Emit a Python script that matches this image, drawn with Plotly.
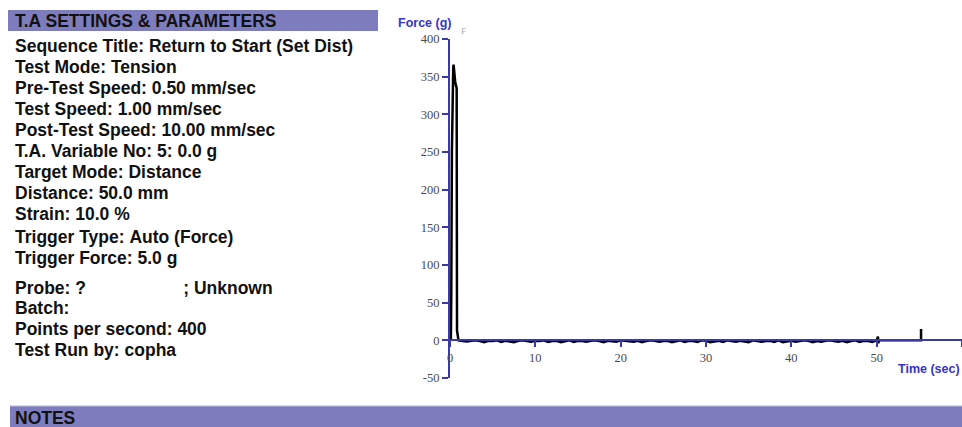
import plotly.graph_objects as go

W, H = 962, 427

# ---- settings panel text ----
settings_title = "T.A SETTINGS & PARAMETERS"
settings_lines = [
    "Sequence Title: Return to Start (Set Dist)",
    "Test Mode: Tension",
    "Pre-Test Speed: 0.50 mm/sec",
    "Test Speed: 1.00 mm/sec",
    "Post-Test Speed: 10.00 mm/sec",
    "T.A. Variable No: 5: 0.0 g",
    "Target Mode: Distance",
    "Distance: 50.0 mm",
    "Strain: 10.0 %",
    "Trigger Type: Auto (Force)",
    "Trigger Force: 5.0 g",
    "Probe: ?                    ; Unknown",
    "Batch:",
    "Points per second: 400",
    "Test Run by: copha",
]
settings_y = [46, 67, 88, 109, 130, 151, 172, 193, 214, 237, 258, 288, 308, 329, 350]
notes_title = "NOTES"

# ---- force / time curve ----
time_peak = [0.10, 0.15, 0.22, 0.30, 0.38, 0.42, 0.50, 0.60, 0.70, 0.78, 0.82, 0.90]
force_peak = [0.0, 60.0, 250.0, 340.0, 362.0, 366.0, 352.0, 344.0, 338.0, 335.0, 13.0, 3.0]

time_hold = [
    1.0, 1.5, 2.0, 2.5, 3.0, 3.5, 4.0, 4.5, 5.0, 5.5, 6.0, 6.5, 7.0, 7.5, 8.0, 8.5,
    9.0, 9.5, 10.0, 10.5, 11.0, 11.5, 12.0, 12.5, 13.0, 13.5, 14.0, 14.5, 15.0, 15.5,
    16.0, 16.5, 17.0, 17.5, 18.0, 18.5, 19.0, 19.5, 20.0, 20.5, 21.0, 21.5, 22.0, 22.5,
    23.0, 23.5, 24.0, 24.5, 25.0, 25.5, 26.0, 26.5, 27.0, 27.5, 28.0, 28.5, 29.0, 29.5,
    30.0, 30.5, 31.0, 31.5, 32.0, 32.5, 33.0, 33.5, 34.0, 34.5, 35.0, 35.5, 36.0, 36.5,
    37.0, 37.5, 38.0, 38.5, 39.0, 39.5, 40.0, 40.5, 41.0, 41.5, 42.0, 42.5, 43.0, 43.5,
    44.0, 44.5, 45.0, 45.5, 46.0, 46.5, 47.0, 47.5, 48.0, 48.5, 49.0, 49.5, 50.0,
]
force_hold = [
    0.0, -1.0, -1.5, -0.5, 0.0, -1.0, -2.5, -0.5, -1.0, 0.0, -2.0, -0.5, -1.0, -2.5, -0.5, 0.0,
    -1.0, -2.0, -0.5, -1.0, 0.0, -2.0, -1.0, -0.5, -2.5, -1.0, 0.0, -2.0, -0.5, -1.0,
    -2.0, -0.5, 0.0, -1.0, -2.5, -0.5, -1.0, -2.0, 0.0, -0.5, -1.0, -2.0, -0.5, -2.5,
    -1.0, 0.0, -0.5, -2.0, -1.0, -0.5, -2.5, -1.0, 0.0, -2.0, -0.5, -1.0, -2.0, 0.0,
    -0.5, -2.5, -1.0, -0.5, -2.0, 0.0, -1.0, -2.0, -0.5, -1.0, -2.5, 0.0, -0.5, -2.0,
    -1.0, -0.5, -2.0, 0.0, -2.5, -1.0, -0.5, -2.0, -1.0, 0.0, -0.5, -2.5, -1.0, -2.0,
    -0.5, 0.0, -1.0, -2.0, -0.5, -2.5, -1.0, 0.0, -2.0, -0.5, -1.0, -2.0, 0.0,
]
time_end = [50.15, 50.2, 50.25, 55.2, 55.2]
force_end = [5.0, -4.0, 0.0, 0.0, 15.0]

time_s = time_peak + time_hold + time_end
force_g = force_peak + force_hold + force_end

x_ticks = [0, 10, 20, 30, 40, 50, 60]
y_ticks = [-50, 0, 50, 100, 150, 200, 250, 300, 350, 400]
x_range = [0, 60]
y_range = [-50, 400]

BAR = "#7d7dbe"
AXIS = "#3a3aa6"
LABEL_BLUE = "#3535c8"


def px_x(p):
    return p / W


def px_y(p):
    return 1 - p / H


x_dom = [px_x(450), 1.0]
y_dom = [px_y(378), px_y(39)]
# x axis runs along the force = 0 line
x_pos = y_dom[0] + (0 - y_range[0]) / (y_range[1] - y_range[0]) * (y_dom[1] - y_dom[0])

fig = go.Figure()
fig.add_trace(go.Scatter(
    x=time_s, y=force_g, mode="lines",
    line=dict(color="black", width=2.5),
    showlegend=False, hoverinfo="skip",
))

tick_font = dict(family="Liberation Serif, Times New Roman, serif", size=12.5, color="#4a4a4a")
fig.update_xaxes(
    domain=x_dom, range=x_range, anchor="free", position=x_pos,
    tickvals=x_ticks, ticktext=[str(v) for v in x_ticks],
    showline=True, linecolor=AXIS, linewidth=1.5,
    ticks="outside", ticklen=6, tickcolor=AXIS, tickwidth=1.5,
    tickfont=tick_font, showgrid=False, zeroline=False, automargin=False,
)
fig.update_yaxes(
    domain=y_dom, range=y_range,
    tickvals=y_ticks, ticktext=[str(v) for v in y_ticks],
    showline=True, linecolor=AXIS, linewidth=2,
    ticks="outside", ticklen=6, tickcolor=AXIS, tickwidth=1.5,
    tickfont=tick_font, showgrid=False, zeroline=False, automargin=False,
)

shapes = [
    dict(type="rect", xref="paper", yref="paper",
         x0=px_x(8), x1=px_x(378), y0=px_y(31), y1=px_y(10),
         fillcolor=BAR, line=dict(width=0), layer="below"),
    dict(type="rect", xref="paper", yref="paper",
         x0=px_x(10), x1=1.0, y0=0.0, y1=px_y(406),
         fillcolor=BAR, line=dict(width=0), layer="below"),
    dict(type="line", xref="paper", yref="paper",
         x0=px_x(10), x1=1.0, y0=px_y(406), y1=px_y(406),
         line=dict(color="#b8b8d8", width=1)),
]

text_font = dict(family="Liberation Sans, Arial, sans-serif", size=17.5, color="#111111")
annotations = [
    dict(text="<b>%s</b>" % settings_title, x=px_x(13), y=px_y(21),
         xref="paper", yref="paper", xanchor="left", yanchor="middle",
         showarrow=False, font=text_font),
    dict(text="<b>%s</b>" % notes_title, x=px_x(13), y=px_y(418),
         xref="paper", yref="paper", xanchor="left", yanchor="middle",
         showarrow=False, font=text_font),
    dict(text="<b>Force (g)</b>", x=px_x(396), y=px_y(23),
         xref="paper", yref="paper", xanchor="left", yanchor="middle",
         showarrow=False, font=dict(family="Liberation Sans, Arial, sans-serif",
                                    size=12.5, color=LABEL_BLUE)),
    dict(text="<b>Time (sec)</b>", x=1.0, y=px_y(369),
         xref="paper", yref="paper", xanchor="right", yanchor="middle",
         showarrow=False, font=dict(family="Liberation Sans, Arial, sans-serif",
                                    size=12.5, color=LABEL_BLUE)),
    dict(text="F", x=px_x(463), y=px_y(31),
         xref="paper", yref="paper", xanchor="center", yanchor="middle",
         showarrow=False, font=dict(family="Liberation Serif, serif", size=9, color="#aaaaaa")),
]
for line, yy in zip(settings_lines, settings_y):
    annotations.append(dict(
        text="<b>%s</b>" % line.replace(" ", "&nbsp;"), x=px_x(13), y=px_y(yy),
        xref="paper", yref="paper", xanchor="left", yanchor="middle",
        showarrow=False, font=text_font,
    ))

fig.update_layout(
    width=W, height=H,
    margin=dict(l=0, r=0, t=0, b=0, pad=0, autoexpand=False),
    paper_bgcolor="white", plot_bgcolor="white",
    shapes=shapes, annotations=annotations,
    showlegend=False,
)

fig.write_html("out.html")
